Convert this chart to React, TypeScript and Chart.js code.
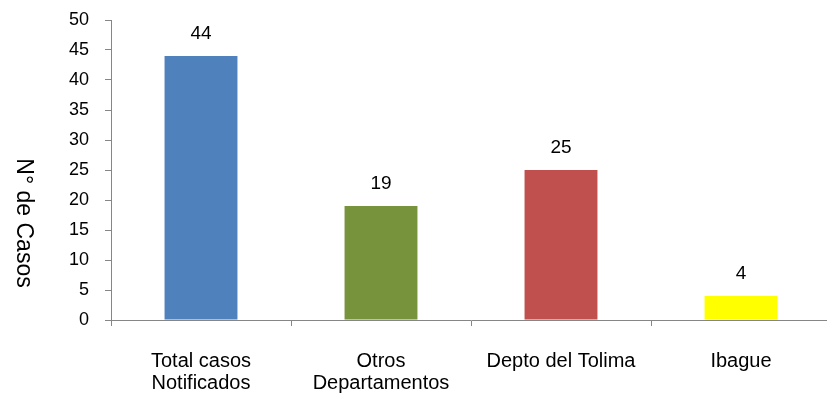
import React, { useEffect, useRef } from "react";
import { Chart, registerables } from "chart.js";

Chart.register(...registerables);

const categories: string[][] = [
  ["Total casos", "Notificados"],
  ["Otros", "Departamentos"],
  ["Depto del Tolima"],
  ["Ibague"],
];
const values: number[] = [44, 19, 25, 4];
const barColors: string[] = ["#4F81BD", "#77933C", "#C0504D", "#FFFF00"];
const yTitle = "N° de Casos";
const yMin = 0;
const yMax = 50;
const yStep = 5;

const FONT = "'Liberation Sans', Arial, sans-serif";
const AXIS = "#868686";

const valueLabels = {
  id: "valueLabels",
  afterDatasetsDraw(chart: any) {
    const ctx = chart.ctx;
    const meta = chart.getDatasetMeta(0);
    ctx.save();
    ctx.font = `19px ${FONT}`;
    ctx.fillStyle = "#000";
    ctx.textAlign = "center";
    ctx.textBaseline = "alphabetic";
    meta.data.forEach((bar: any, i: number) => {
      ctx.fillText(String(values[i]), bar.x, bar.y - 17);
    });
    ctx.restore();
  },
};

const yTitlePlugin = {
  id: "yTitlePlugin",
  afterDraw(chart: any) {
    const ctx = chart.ctx;
    ctx.save();
    ctx.translate(23, 223);
    ctx.rotate(Math.PI / 2);
    ctx.font = `23px ${FONT}`;
    ctx.fillStyle = "#000";
    ctx.textAlign = "center";
    ctx.textBaseline = "middle";
    ctx.fillText(yTitle, 0, 0);
    ctx.restore();
  },
};

export default function App() {
  const ref = useRef<HTMLCanvasElement>(null);
  useEffect(() => {
    if (!ref.current) return;
    const chart = new Chart(ref.current, {
      type: "bar",
      data: {
        labels: categories,
        datasets: [
          {
            data: values,
            backgroundColor: barColors,
            borderWidth: 0,
            barPercentage: 0.405,
            categoryPercentage: 1,
          },
        ],
      },
      options: {
        responsive: false,
        animation: false,
        devicePixelRatio: 1,
        layout: { padding: { left: 0, right: 9, top: 20, bottom: 0 } },
        plugins: {
          legend: { display: false },
          tooltip: { enabled: false },
          title: { display: false },
        },
        scales: {
          x: {
            grid: {
              offset: true,
              drawOnChartArea: false,
              drawTicks: true,
              tickLength: 6,
              color: AXIS,
            },
            border: { display: true, color: AXIS, width: 1 },
            ticks: {
              color: "#000",
              font: { family: FONT, size: 20, lineHeight: 1.1 },
              padding: 24,
              maxRotation: 0,
              autoSkip: false,
            },
            afterFit: (scale: any) => {
              scale.height = 78;
              scale.paddingLeft = 0;
              scale.paddingRight = 0;
            },
          },
          y: {
            min: yMin,
            max: yMax,
            grid: {
              drawOnChartArea: false,
              drawTicks: true,
              tickLength: 6,
              color: AXIS,
            },
            border: { display: true, color: AXIS, width: 1 },
            ticks: {
              stepSize: yStep,
              color: "#000",
              font: { family: FONT, size: 18 },
              padding: 16,
            },
            afterFit: (scale: any) => {
              scale.width = 111;
              scale.paddingTop = 0;
              scale.paddingBottom = 0;
            },
          },
        },
      },
      plugins: [valueLabels, yTitlePlugin],
    });
    return () => chart.destroy();
  }, []);

  return (
    <div
      style={{
        position: "fixed",
        left: 0,
        top: 0,
        width: 827,
        height: 398,
        overflow: "hidden",
        background: "#fff",
      }}
    >
      <canvas ref={ref} width={840} height={398} style={{ display: "block", width: 840, height: 398 }} />
    </div>
  );
}
